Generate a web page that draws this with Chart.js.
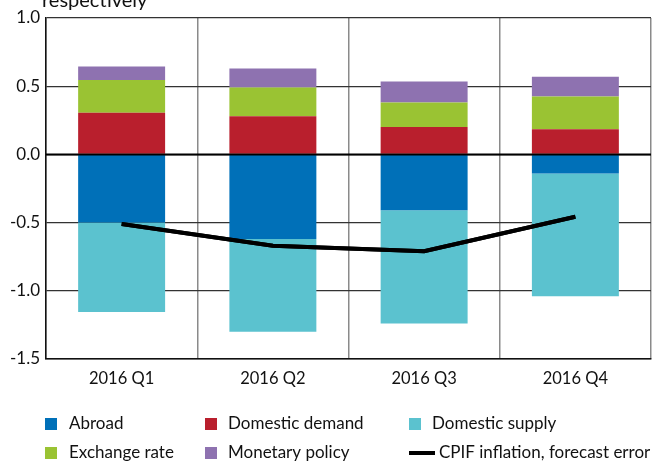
<!DOCTYPE html>
<html>
<head>
<meta charset="utf-8">
<script src="https://cdn.jsdelivr.net/npm/chart.js@4"></script>
<style>
html,body{margin:0;padding:0;background:#fff;}
#wrap{width:652px;height:461px;position:relative;}
</style>
</head>
<body>
<div id="wrap"><canvas id="c" width="652" height="461"></canvas></div>
<script>
const categories = ['2016 Q1', '2016 Q2', '2016 Q3', '2016 Q4'];
const abroad = [-0.50, -0.62, -0.41, -0.14];
const domesticDemand = [0.305, 0.28, 0.20, 0.185];
const domesticSupply = [-0.655, -0.68, -0.83, -0.90];
const exchangeRate = [0.24, 0.21, 0.18, 0.24];
const monetaryPolicy = [0.10, 0.14, 0.155, 0.145];
const cpifError = [-0.51, -0.67, -0.71, -0.457];
const yTicks = [1.0, 0.5, 0.0, -0.5, -1.0, -1.5];
const subtitle = 'respectively';

const FONT = 'Lato, "Open Sans", sans-serif';

const legendPlugin = {
  id: 'customLegend',
  afterDraw(chart) {
    const ctx = chart.ctx;
    const ds = chart.data.datasets;
    const cols = [{box: 45, text: 69}, {box: 205, text: 228}, {box: 409, text: 432}];
    const rows = [424, 453];
    ctx.save();
    ctx.font = '17px ' + FONT;
    ctx.textBaseline = 'middle';
    ds.forEach((d, i) => {
      const c = cols[i % 3], y = rows[Math.floor(i / 3)];
      if (d.type === 'line') {
        ctx.fillStyle = '#000';
        ctx.fillRect(c.box, y - 2, 26, 4);
        ctx.fillStyle = '#111';
        ctx.fillText(d.label, c.text + 7, y);
      } else {
        ctx.fillStyle = d.backgroundColor;
        ctx.fillRect(c.box, y - 6, 12, 12);
        ctx.fillStyle = '#111';
        ctx.fillText(d.label, c.text, y);
      }
    });
    // subtitle (cut off at top)
    ctx.font = '20px ' + FONT;
    ctx.textBaseline = 'alphabetic';
    ctx.fillText(subtitle, 42, 7);
    ctx.restore();
  }
};

const zeroLinePlugin = {
  id: 'zeroLine',
  afterDatasetsDraw(chart) {
    const y = chart.scales.y.getPixelForValue(0);
    const a = chart.chartArea;
    const ctx = chart.ctx;
    ctx.save();
    ctx.strokeStyle = '#000';
    ctx.lineWidth = 2;
    ctx.beginPath();
    ctx.moveTo(a.left, y);
    ctx.lineTo(a.right, y);
    ctx.stroke();
    chart.getDatasetMeta(5).controller.draw();
    ctx.restore();
  }
};

new Chart(document.getElementById('c'), {
  data: {
    labels: categories,
    datasets: [
      {type: 'bar', label: 'Abroad', data: abroad, backgroundColor: '#0070B8', stack: 'bars', order: 1},
      {type: 'bar', label: 'Domestic demand', data: domesticDemand, backgroundColor: '#B91F2D', stack: 'bars', order: 1},
      {type: 'bar', label: 'Domestic supply', data: domesticSupply, backgroundColor: '#5BC2CF', stack: 'bars', order: 1},
      {type: 'bar', label: 'Exchange rate', data: exchangeRate, backgroundColor: '#9AC333', stack: 'bars', order: 1},
      {type: 'bar', label: 'Monetary policy', data: monetaryPolicy, backgroundColor: '#8E72B0', stack: 'bars', order: 1},
      {type: 'line', label: 'CPIF inflation, forecast error', data: cpifError, borderColor: '#000', borderWidth: 4, pointRadius: 0, tension: 0, stack: 'line', order: 0, fill: false}
    ]
  },
  options: {
    responsive: false,
    animation: false,
    events: [],
    layout: {padding: {top: 18, right: 1, left: 0, bottom: 0}},
    datasets: {bar: {barPercentage: 0.575, categoryPercentage: 1.0}},
    plugins: {legend: {display: false}, tooltip: {enabled: false}, title: {display: false}},
    scales: {
      x: {
        stacked: true,
        offset: true,
        grid: {offset: true, color: '#8a8a8a', lineWidth: 1.5, drawTicks: false},
        border: {color: '#111', width: 1.5},
        ticks: {padding: 10, color: '#111', font: {family: FONT, size: 16.5}, maxRotation: 0},
        afterFit(s) { s.height = 102; }
      },
      y: {
        stacked: true,
        min: -1.5, max: 1.0,
        afterBuildTicks(s) { s.ticks = yTicks.map(v => ({value: v})); },
        grid: {color: '#333', lineWidth: 1.2, drawTicks: false},
        border: {color: '#111', width: 1.5},
        ticks: {padding: 6, color: '#111', font: {family: FONT, size: 17}, callback: v => v.toFixed(1)},
        afterFit(s) { s.width = 46; }
      }
    }
  },
  plugins: [zeroLinePlugin, legendPlugin]
});
</script>
</body>
</html>
